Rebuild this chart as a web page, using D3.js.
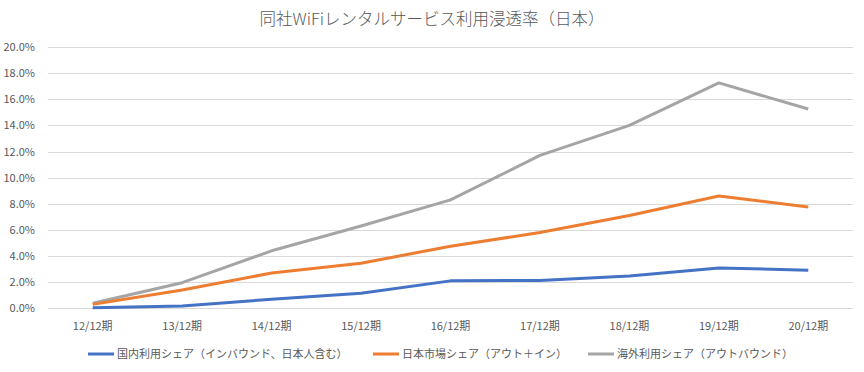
<!DOCTYPE html>
<html>
<head>
<meta charset="utf-8">
<script src="https://cdn.jsdelivr.net/npm/d3@7"></script>
<style>
  body { margin: 0; background: #fff; }
  text { font-family: "Noto Sans CJK JP", "Noto Sans", sans-serif; fill: #595959; }
</style>
</head>
<body>
<div id="chart"></div>
<script>
var categories = ['12/12期', '13/12期', '14/12期', '15/12期', '16/12期', '17/12期', '18/12期', '19/12期', '20/12期'];
var domestic = [0.05, 0.18, 0.69, 1.15, 2.1, 2.13, 2.47, 3.09, 2.92];
var japanMarket = [0.3, 1.4, 2.7, 3.45, 4.75, 5.8, 7.1, 8.6, 7.75];
var overseas = [0.38, 1.96, 4.4, 6.3, 8.3, 11.7, 14.0, 17.25, 15.25];
var seriesNames = ['国内利用シェア（インバウンド、日本人含む）', '日本市場シェア（アウト＋イン）', '海外利用シェア（アウトバウンド）'];
var colors = ['#4472c4', '#ed7d31', '#a5a5a5'];
var yTicks = [0, 2, 4, 6, 8, 10, 12, 14, 16, 18, 20];

var width = 864,
    height = 372,
    margin = {top: 47, right: 11, bottom: 64, left: 48};

var svg = d3.select('#chart')
    .append('svg')
    .attr('width', width)
    .attr('height', height);

svg.append('text')
    .attr('x', width / 2)
    .attr('y', 25)
    .attr('text-anchor', 'middle')
    .style('font-size', '16.5px')
    .style('font-weight', 300)
    .text('同社WiFiレンタルサービス利用浸透率（日本）');

var x = d3.scaleBand()
    .domain(categories)
    .range([margin.left, width - margin.right]);

var y = d3.scaleLinear()
    .domain([0, 20])
    .range([height - margin.bottom + 0.3, margin.top]);

// gridlines
svg.append('g')
    .selectAll('line')
    .data(yTicks)
    .enter()
    .append('line')
    .attr('x1', margin.left)
    .attr('x2', width - margin.right)
    .attr('y1', function (d) { return Math.round(y(d)) + 0.5; })
    .attr('y2', function (d) { return Math.round(y(d)) + 0.5; })
    .attr('stroke', '#d9d9d9')
    .attr('stroke-width', 1);

var yAxis = svg.append('g')
    .attr('transform', 'translate(' + (margin.left - 10) + ',0)')
    .call(d3.axisLeft(y).tickValues(yTicks).tickSize(0).tickFormat(function (d) { return d.toFixed(1) + '%'; }));
yAxis.select('.domain').remove();
yAxis.selectAll('text').style('font-size', '11px').attr('fill', '#595959');

var xAxis = svg.append('g')
    .attr('transform', 'translate(0,' + (height - margin.bottom) + ')')
    .call(d3.axisBottom(x).tickSize(0).tickPadding(14));
xAxis.select('.domain').remove();
xAxis.selectAll('text').style('font-size', '11px').attr('fill', '#595959');

var line = d3.line()
    .x(function (d, i) { return x(categories[i]) + x.bandwidth() / 2; })
    .y(function (d) { return y(d); });

var allSeries = [domestic, japanMarket, overseas];

// draw in reverse so blue is on top
[2, 1, 0].forEach(function (k) {
    svg.append('path')
        .datum(allSeries[k])
        .attr('d', line)
        .attr('fill', 'none')
        .attr('stroke', colors[k])
        .attr('stroke-width', 3)
        .attr('stroke-linejoin', 'round');
});

// legend
var legendX = [88, 373, 588];
var legend = svg.append('g');
seriesNames.forEach(function (name, k) {
    legend.append('line')
        .attr('x1', legendX[k])
        .attr('x2', legendX[k] + 26)
        .attr('y1', 354)
        .attr('y2', 354)
        .attr('stroke', colors[k])
        .attr('stroke-width', 3);
    legend.append('text')
        .attr('x', legendX[k] + 29)
        .attr('y', 358)
        .style('font-size', '11px')
        .text(name);
});
</script>
</body>
</html>
